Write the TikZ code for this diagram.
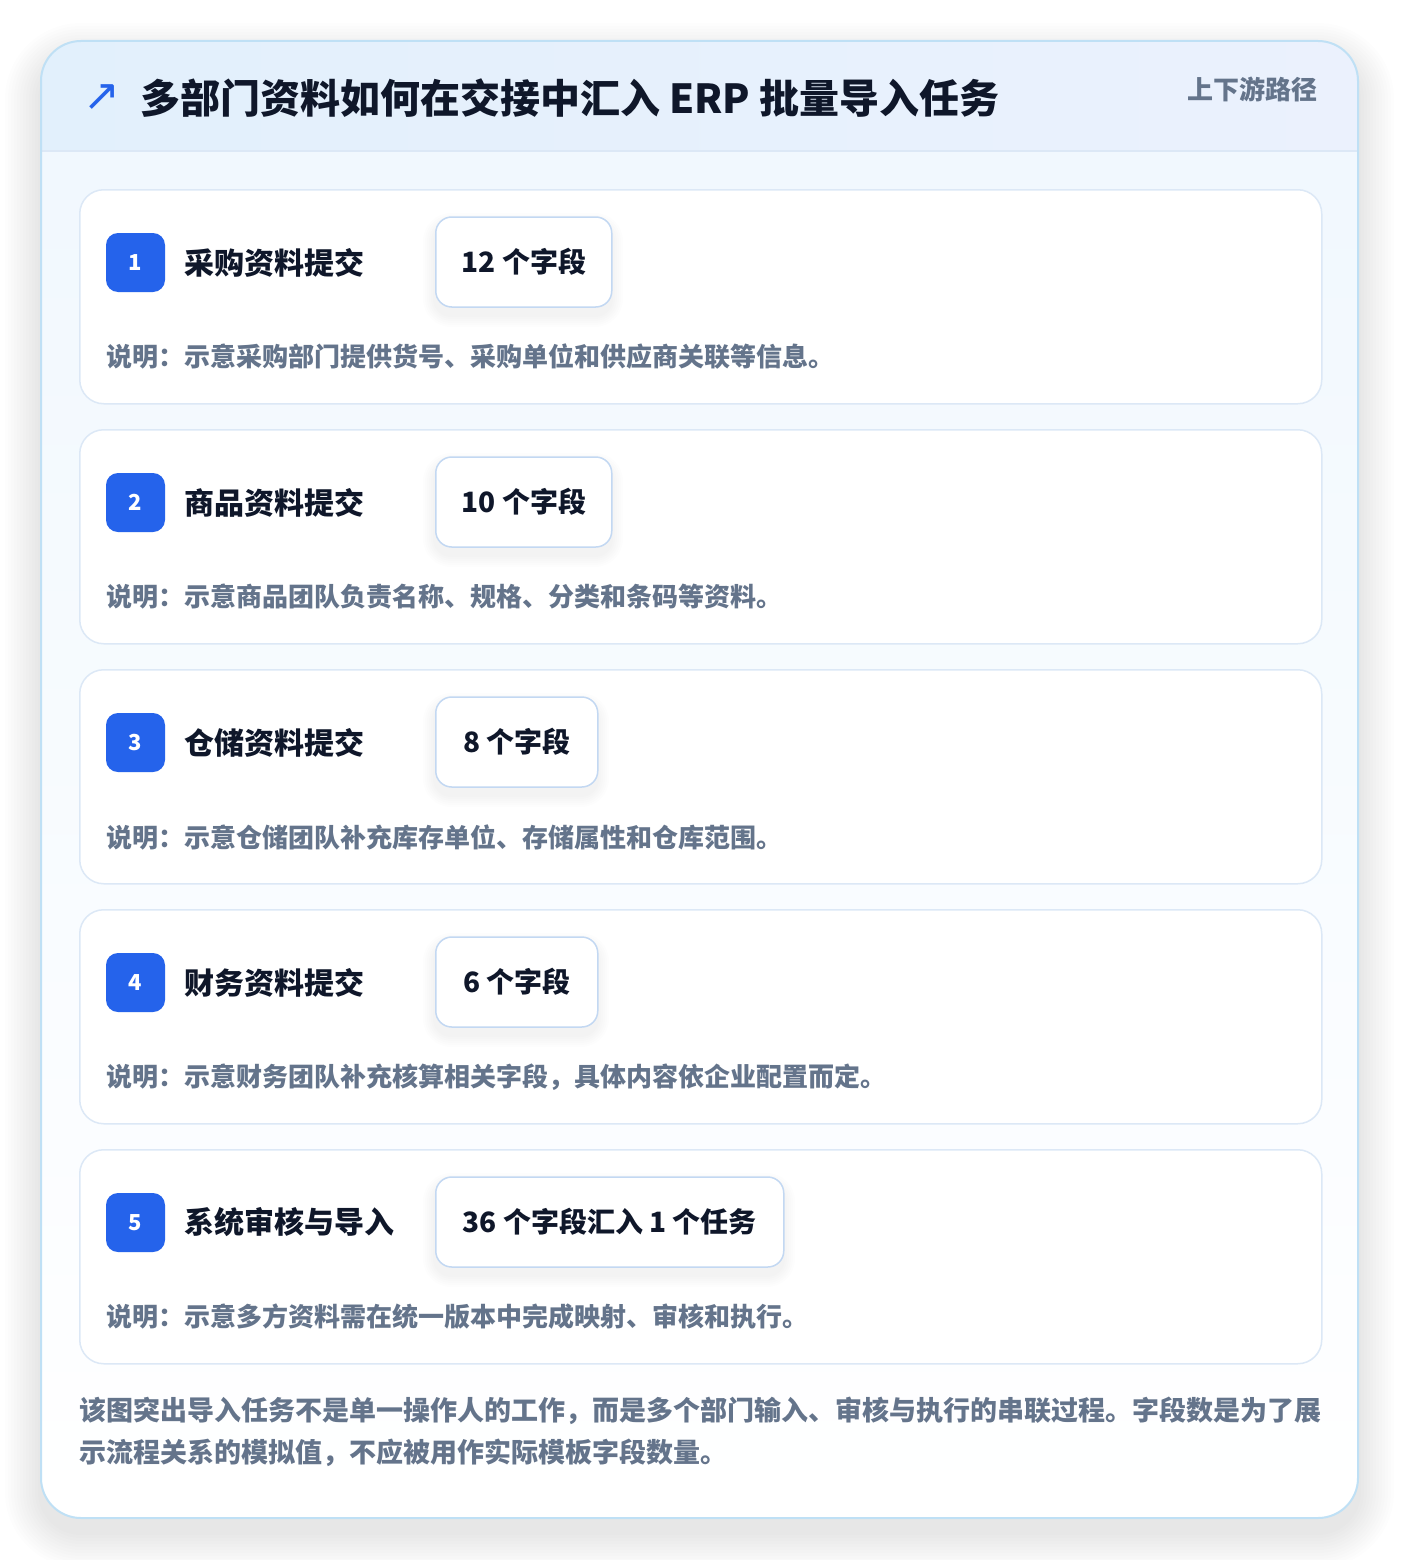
\documentclass[tikz,border=0pt]{standalone}
\usepackage{fontspec}
\setmainfont{Noto Sans CJK SC}
\newfontfamily\symfont{DejaVu Sans}
\usetikzlibrary{positioning}

\definecolor{inkdark}{HTML}{0F172A}
\definecolor{inkgray}{HTML}{64748B}
\definecolor{badgeblue}{HTML}{2563EB}
\definecolor{panelline}{HTML}{BFE0F5}
\definecolor{cardline}{HTML}{DCE8F6}
\definecolor{chipline}{HTML}{C3D8F2}
\definecolor{headleft}{HTML}{E2F0FC}
\definecolor{headright}{HTML}{EBF1FD}
\definecolor{bodytop}{HTML}{F1F8FE}

\tikzset{
  card/.style={draw=cardline, line width=1.5pt, fill=white, rounded corners=24pt,
    minimum width=1242pt, minimum height=214pt, inner sep=0pt, anchor=north west},
  badge/.style={fill=badgeblue, rounded corners=12pt, minimum size=59pt, inner sep=0pt,
    text=white, font=\fontsize{22}{26}\selectfont\bfseries},
  steptitle/.style={inner sep=0pt, anchor=west, text=inkdark,
    font=\fontsize{30}{36}\selectfont\bfseries},
  chip/.style={draw=chipline, line width=1.5pt, fill=white, rounded corners=16pt,
    minimum height=90pt, inner sep=0pt, anchor=west, text=inkdark,
    font=\fontsize{28}{34}\selectfont\bfseries},
  desc/.style={inner sep=0pt, anchor=west, text=inkgray,
    font=\fontsize{26}{30}\selectfont\bfseries},
  haze/.style={fill=black, opacity=#1},
}

\begin{document}
\begin{tikzpicture}[x=1pt,y=-1pt]
\useasboundingbox (0,0) rectangle (1400,1560);
\fill[white] (0,0) rectangle (1400,1560);
% soft shadow of the outer panel
\foreach \s in {3,6,...,36}
  \fill[haze=0.007, rounded corners=40pt+\s pt] (41-\s,{41-\s+18}) rectangle (1358+\s,{1518+\s+14});
\fill[white, rounded corners=40pt] (41,41) rectangle (1358,1518);
\begin{scope}
\clip[rounded corners=40pt] (41,41) rectangle (1358,1518);
\shade[top color=bodytop, bottom color=white] (41,151) rectangle (1358,1518);
\shade[left color=headleft, right color=headright] (41,41) rectangle (1358,151);
\draw[cardline, line width=1.5pt] (41,151) -- (1358,151);
\end{scope}
\draw[panelline, line width=2pt, rounded corners=40pt] (41,41) rectangle (1358,1518);

% header
\node[inner sep=0pt, text=badgeblue, font=\fontsize{44}{44}\selectfont\symfont] (icon) at (102,98) {↗};
\node[inner sep=0pt, anchor=west, text=inkdark, font=\fontsize{40}{46}\selectfont\bfseries]
  (heading) at (140,98) {多部门资料如何在交接中汇入 ERP 批量导入任务};
\node[inner sep=0pt, anchor=east, text=inkgray, font=\fontsize{26}{30}\selectfont\bfseries]
  (tag) at (1318,89) {上下游路径};

% step cards
\foreach \n/\ttl/\chiptext/\chipwd/\texto in {
  1/采购资料提交/12 个字段/176/说明：示意采购部门提供货号、采购单位和供应商关联等信息。,
  2/商品资料提交/10 个字段/176/说明：示意商品团队负责名称、规格、分类和条码等资料。,
  3/仓储资料提交/8 个字段/162/说明：示意仓储团队补充库存单位、存储属性和仓库范围。,
  4/财务资料提交/6 个字段/162/说明：示意财务团队补充核算相关字段，具体内容依企业配置而定。,
  5/系统审核与导入/36 个字段汇入 1 个任务/348/说明：示意多方资料需在统一版本中完成映射、审核和执行。}
{
  \pgfmathsetmacro\yy{189+240*(\n-1)}
  \node[card] (card\n) at (79,\yy) {};
  \node[badge] (badge\n) at (135.5,{\yy+73.5}) {\n};
  \node[steptitle, right=19pt of badge\n] (title\n) {\ttl};
  \foreach \s in {2,4,...,12}
    \fill[haze=0.008, rounded corners=16pt+\s pt] (435-\s,{\yy+28-\s+8}) rectangle ({435+\chipwd+\s},{\yy+118+\s+8});
  \node[chip, minimum width=\chipwd pt] (chip\n) at (435,{\yy+73}) {\chiptext};
  \node[desc] (desc\n) at (106,{\yy+168}) {\texto};
}

% closing note
\node[inner sep=0pt, anchor=north west, align=left, text=inkgray,
  font=\fontsize{27}{42}\selectfont\bfseries] (note) at (79,1397)
  {该图突出导入任务不是单一操作人的工作，而是多个部门输入、审核与执行的串联过程。字段数是为了展\\
   示流程关系的模拟值，不应被用作实际模板字段数量。};
\end{tikzpicture}
\end{document}
